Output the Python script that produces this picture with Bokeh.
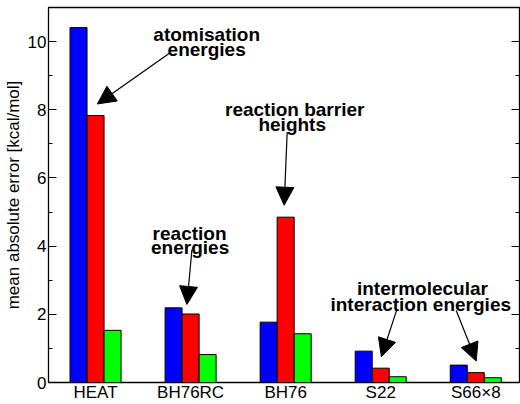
from bokeh.plotting import figure
from bokeh.models import (ColumnDataSource, Range1d, FixedTicker, LinearAxis,
                          Arrow, NormalHead)
from bokeh.transform import dodge
from bokeh.core.properties import value
from bokeh.embed import file_html
from bokeh.resources import INLINE

# ---- data ----
categories = ["HEAT", "BH76RC", "BH76", "S22", "S66×8"]
blue_vals = [10.41, 2.19, 1.77, 0.92, 0.51]
red_vals = [7.83, 2.01, 4.85, 0.42, 0.29]
green_vals = [1.53, 0.82, 1.43, 0.17, 0.14]
y_major = [0, 2, 4, 6, 8, 10]
y_minor = [1, 3, 5, 7, 9]

xpos = list(range(1, len(categories) + 1))
src = ColumnDataSource(dict(x=xpos, blue=blue_vals, red=red_vals, green=green_vals))

FONT = "Liberation Sans"

p = figure(width=520, height=404, output_backend="svg", toolbar_location=None,
           title=None,
           x_range=Range1d(0.505, 5.46), y_range=Range1d(0, 11),
           min_border_left=0, min_border_right=1, min_border_top=7, min_border_bottom=0)
p.grid.visible = False
p.outline_line_color = "black"
p.outline_line_width = 1.3
p.background_fill_color = "white"
p.border_fill_color = "white"

bw = 0.179
p.vbar(x=dodge("x", -bw, range=p.x_range), top="blue", width=bw, source=src,
       fill_color="#0000ff", line_color="black", line_width=1)
p.vbar(x=dodge("x", 0, range=p.x_range), top="red", width=bw, source=src,
       fill_color="#ff0000", line_color="black", line_width=1)
p.vbar(x=dodge("x", bw, range=p.x_range), top="green", width=bw, source=src,
       fill_color="#00ff00", line_color="black", line_width=1)

# x axis
xa = p.xaxis[0]
xa.ticker = FixedTicker(ticks=xpos)
xa.major_label_overrides = {i: c for i, c in zip(xpos, categories)}
xa.axis_label = None
xa.major_tick_in = 0
xa.major_tick_out = 0
xa.minor_tick_in = 0
xa.minor_tick_out = 0
xa.axis_line_color = None
xa.major_label_standoff = 0
xa.major_label_text_font = FONT
xa.major_label_text_font_size = "17px"
xa.major_label_text_color = "black"

# y axis
ya = p.yaxis[0]
ya.ticker = FixedTicker(ticks=y_major, minor_ticks=y_minor)
ya.major_tick_in = 8
ya.major_tick_out = 0
ya.minor_tick_in = 4
ya.minor_tick_out = 0
ya.axis_line_color = None
ya.major_tick_line_color = "black"
ya.minor_tick_line_color = "black"
ya.major_label_standoff = 2
ya.major_label_text_font = FONT
ya.major_label_text_font_size = "17px"
ya.major_label_text_color = "black"
ya.axis_label = "mean absolute error [kcal/mol]"
ya.axis_label_text_font = FONT
ya.axis_label_text_font_size = "17px"
ya.axis_label_text_font_style = "normal"
ya.axis_label_text_color = "black"
ya.axis_label_standoff = 2

ra = LinearAxis(ticker=FixedTicker(ticks=y_major, minor_ticks=y_minor),
                axis_label=None,
                major_tick_in=8, major_tick_out=0, minor_tick_in=4, minor_tick_out=0,
                axis_line_color=None, major_label_text_font_size="1px",
                major_label_text_color=None, major_label_standoff=0)
p.add_layout(ra, "right")

# annotations
texts = ["atomisation", "energies", "reaction", "energies", "reaction barrier",
         "heights", "intermolecular", "interaction energies"]
tx = [2.169, 2.169, 1.989, 1.995, 3.095, 3.069, 4.439, 4.421]
ty = [10.22, 9.77, 4.37, 3.95, 8.02, 7.57, 2.77, 2.29]
p.text(x=tx, y=ty, text=texts, text_font=value(FONT), text_font_style="bold",
       text_font_size="19px", text_align="center", text_baseline="alphabetic",
       text_color="black")

arrows = [
    (1.788, 9.68, 1.019, 8.17),
    (2.014, 3.90, 1.961, 2.29),
    (3.016, 7.35, 2.984, 5.20),
    (4.166, 2.11, 4.007, 0.756),
    (4.794, 2.11, 5.005, 0.63),
]
for xs, ys, xe, ye in arrows:
    p.add_layout(Arrow(end=NormalHead(size=18, fill_color="black", line_color="black"),
                       x_start=xs, y_start=ys, x_end=xe, y_end=ye,
                       line_color="black", line_width=1.2))

open("out.html", "w").write(file_html(p, INLINE))
